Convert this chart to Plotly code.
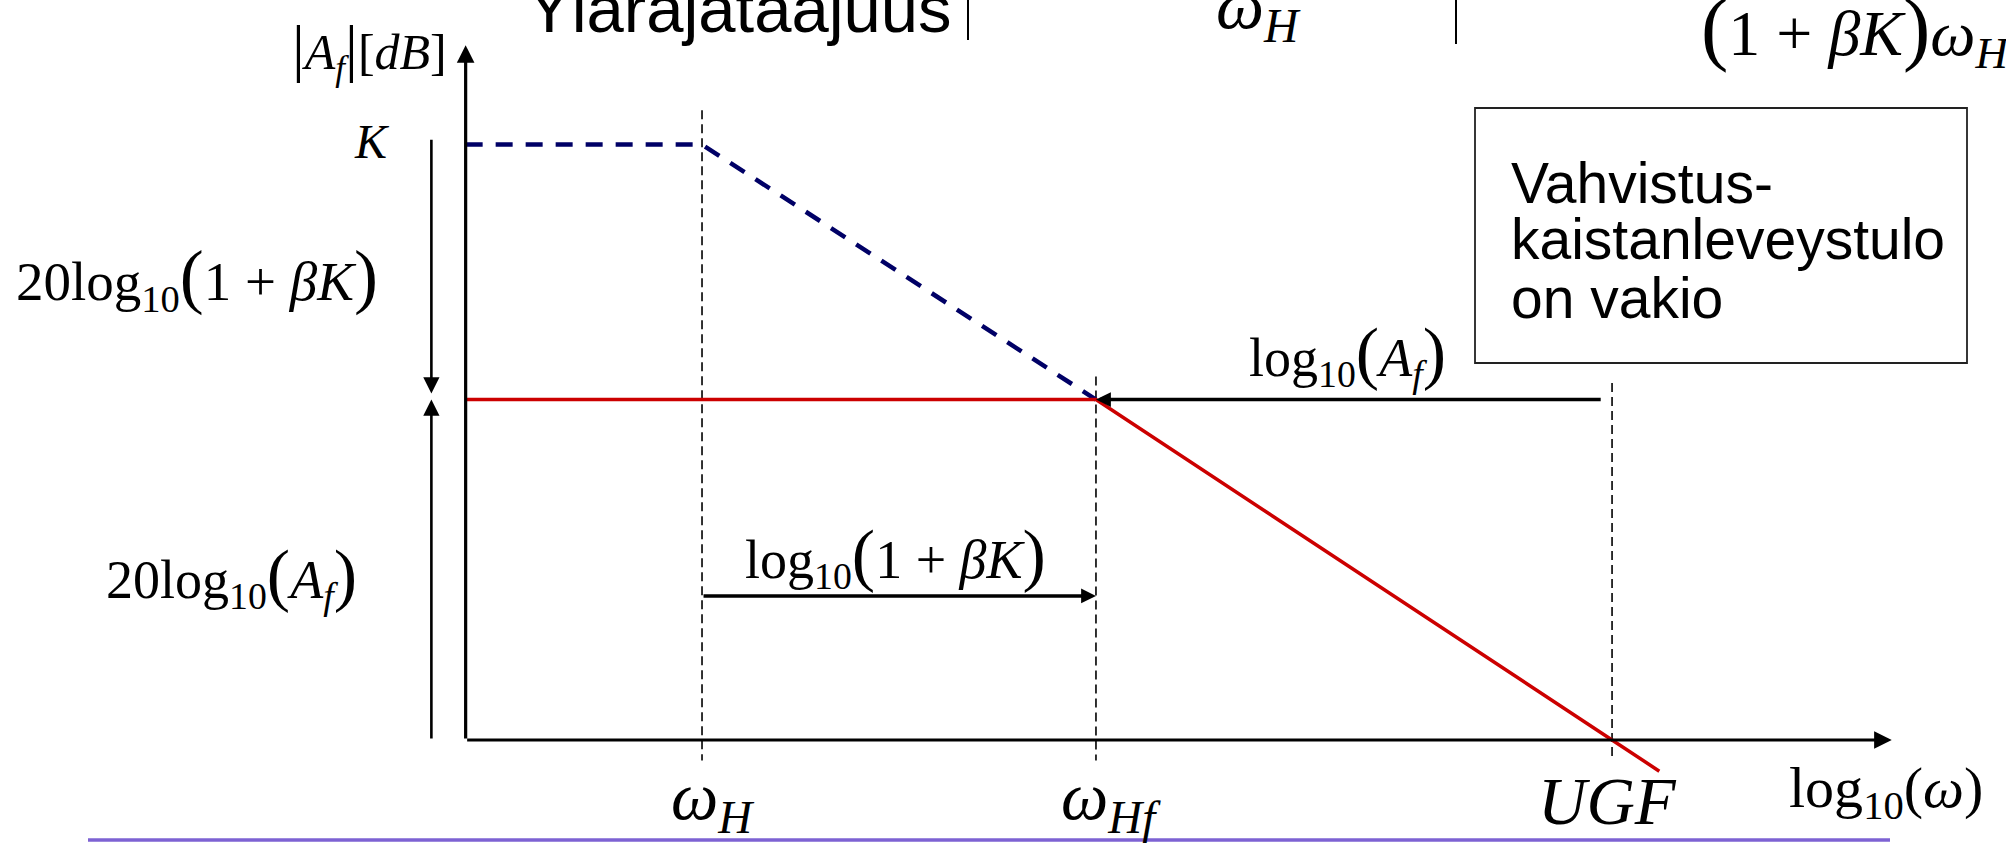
import plotly.graph_objects as go

W, H = 2006, 843

# ---- Bode asymptotes: x = log10(omega) [decades], y = gain [dB] ----
log_w_start = 1.40      # where the two axes meet
log_w_H = 2.00          # open-loop upper cut-off  w_H
log_w_Hf = 3.00         # closed-loop upper cut-off w_Hf = (1+bK) w_H
log_w_ugf = 4.31        # unity-gain frequency UGF
log_w_end = 5.02        # tip of the frequency axis

gain_K_db = 46.7        # open-loop gain K
gain_Af_db = 26.7       # closed-loop gain A_f
gain_top_db = 54.5      # tip of the gain axis

open_loop_x = [log_w_start, log_w_H, log_w_Hf]
open_loop_db = [gain_K_db, gain_K_db, gain_Af_db]

closed_loop_x = [log_w_start, log_w_Hf, log_w_ugf]
closed_loop_db = [gain_Af_db, gain_Af_db, 0.0]

# labels under the frequency axis
freq_marks = [log_w_H, log_w_Hf, log_w_ugf]
freq_labels = ["<i>ω</i><sub><i>H</i></sub>", "<i>ω</i><sub><i>Hf</i></sub>", "<i>UGF</i>"]
freq_label_shift = [10, 15, -5]

X_RANGE = [0.218, 5.310]
Y_RANGE = [-8.08, 58.04]

SERIF = "Liberation Serif, Times New Roman, serif"
SANS = "Liberation Sans, Arial, sans-serif"
RED = "#cc0000"
NAVY = "#000066"


def px(x):
    return x / W


def py(y):
    return 1 - y / H


def big(ch, size):
    """A taller bracket, as an equation editor draws it."""
    return f'<span style="font-size:{size}px">{ch}</span>'


fig = go.Figure()

# open-loop response (dashed navy)
fig.add_trace(go.Scatter(
    x=open_loop_x, y=open_loop_db, mode="lines",
    line=dict(color=NAVY, width=4.5, dash="17px,13px"),
    hoverinfo="skip", showlegend=False))

# closed-loop response (red), continued a little past the UGF
slope = (closed_loop_db[2] - closed_loop_db[1]) / (closed_loop_x[2] - closed_loop_x[1])
overshoot = 0.12
fig.add_trace(go.Scatter(
    x=closed_loop_x + [log_w_ugf + overshoot],
    y=closed_loop_db + [slope * overshoot],
    mode="lines", line=dict(color=RED, width=3.5),
    hoverinfo="skip", showlegend=False))

shapes = []
# thin dashed guides at the characteristic frequencies
guide_tops = [gain_K_db + 2.7, gain_Af_db + 1.8, gain_Af_db + 1.3]
for xv, top in zip(freq_marks, guide_tops):
    shapes.append(dict(type="line", xref="x", yref="y", x0=xv, x1=xv, y0=top, y1=-1.6,
                       line=dict(color="black", width=1.6, dash="9px,5px"), layer="below"))

# text box
shapes.append(dict(type="rect", xref="paper", yref="paper",
                   x0=px(1475), x1=px(1967), y0=py(363), y1=py(108),
                   line=dict(color="#222222", width=1.8), fillcolor="rgba(0,0,0,0)"))
# header separators
for xs, yb in [(968, 40), (1456, 44)]:
    shapes.append(dict(type="line", xref="paper", yref="paper",
                       x0=px(xs), x1=px(xs), y0=py(0), y1=py(yb),
                       line=dict(color="black", width=2)))
# bottom rule
shapes.append(dict(type="line", xref="paper", yref="paper",
                   x0=px(88), x1=px(1890), y0=py(840), y1=py(840),
                   line=dict(color="#7d62d3", width=3.5)))

ann = []


def arrow(x, y, ax, ay, width=3.0, size=1.1):
    ann.append(dict(x=x, y=y, ax=ax, ay=ay, xref="x", yref="y", axref="x", ayref="y",
                    text="", showarrow=True, arrowhead=2, arrowsize=size,
                    arrowwidth=width, arrowcolor="black", standoff=0))


# axes
arrow(log_w_start, gain_top_db, log_w_start, 0.0, width=3.2, size=1.1)
arrow(log_w_end, 0.0, log_w_start, 0.0, width=3.2, size=1.1)

# gain differences on the left
left_x = log_w_start - 0.087
arrow(left_x, gain_Af_db + 0.47, left_x, gain_K_db + 0.5, width=2.6, size=1.25)
arrow(left_x, gain_Af_db, left_x, 0.0, width=2.6, size=1.25)

# bandwidth extension arrow
arrow(log_w_Hf, 11.3, log_w_H, 11.3, width=3.5, size=0.85)
# closed-loop gain arrow
arrow(log_w_Hf, gain_Af_db, log_w_ugf - 0.025, gain_Af_db, width=3.5, size=0.85)


def label(text, x, y, size, family=SERIF, xanchor="center", color="black"):
    ann.append(dict(text=text, x=px(x), y=py(y), xref="paper", yref="paper",
                    xanchor=xanchor, yanchor="middle", showarrow=False,
                    font=dict(family=family, size=size, color=color)))


# frequency markers under the axis
for xv, t, sh in zip(freq_marks, freq_labels, freq_label_shift):
    ann.append(dict(text=t, x=xv, y=py(801), xref="x", yref="paper", xshift=sh,
                    xanchor="center", yanchor="middle", showarrow=False,
                    font=dict(family=SERIF, size=67, color="black")))

label("log<sub>10</sub>(<i>ω</i>)", 1886, 791, 58)
label(big("|", 64) + "<i>A</i><sub><i>f</i></sub>" + big("|", 64) + "[<i>dB</i>]",
      449, 50, 50, xanchor="right")
label("<i>K</i>", 372, 141, 48)
label("20log<sub>10</sub>" + big("(", 72) + "1 + <i>βK</i>" + big(")", 72),
      14, 278, 55, xanchor="left")
label("20log<sub>10</sub>" + big("(", 70) + "<i>A</i><sub><i>f</i></sub>" + big(")", 70),
      104, 576, 54, xanchor="left")
label("log<sub>10</sub>" + big("(", 70) + "1 + <i>βK</i>" + big(")", 70),
      743, 556, 54, xanchor="left")
label("log<sub>10</sub>" + big("(", 70) + "<i>A</i><sub><i>f</i></sub>" + big(")", 70),
      1247, 354, 54, xanchor="left")

# box text
for t, yc in [("Vahvistus-", 183), ("kaistanleveystulo", 239), ("on vakio", 298)]:
    label(t, 1509, yc, 57, family=SANS, xanchor="left")

# header row
label("Ylärajataajuus", 954, 9, 67, family=SANS, xanchor="right")
label("<i>ω</i><sub><i>H</i></sub>", 1258, 10, 68)
label(big("(", 82) + "1 + <i>βK</i>" + big(")", 82) + "<i>ω</i><sub><i>H</i></sub>",
      2012, 30, 64, xanchor="right")

fig.update_layout(
    width=W, height=H, autosize=False,
    margin=dict(l=0, r=0, t=0, b=0),
    paper_bgcolor="white", plot_bgcolor="white",
    xaxis=dict(range=X_RANGE, visible=False, fixedrange=True),
    yaxis=dict(range=Y_RANGE, visible=False, fixedrange=True),
    shapes=shapes, annotations=ann,
)

fig.write_html("out.html", config={"displayModeBar": False})
